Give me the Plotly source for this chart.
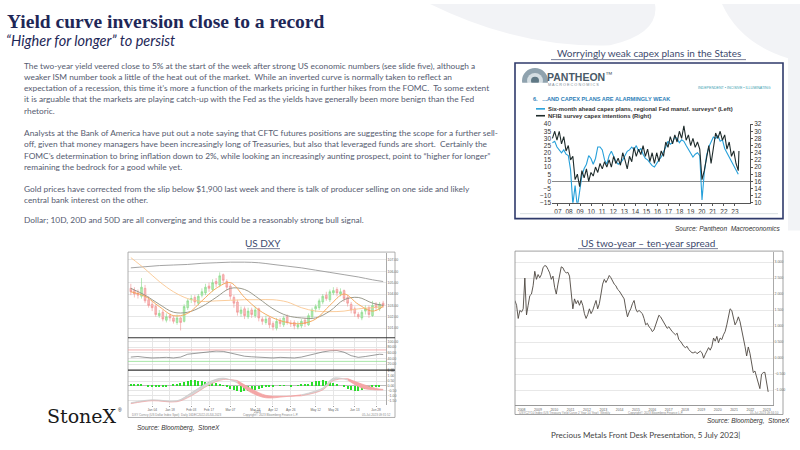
import numpy as np
import pandas as pd
import plotly.graph_objects as go

W, H = 800, 450
SANS = "Lato, Open Sans, sans-serif"
ARIAL = "Liberation Sans, Arial, sans-serif"
SERIF = "Liberation Serif, Times New Roman, serif"
NAVY = "#1e2757"

# ---------------- Pantheon: capex plans (left) vs NFIB capex intentions (right)
capex_years = np.linspace(2006.5, 2023.3, 83)
capex_plans = [27, 28, 24, 22, 20, 22, 19, 18, 8, -16,
               -3, -18, -5, 4, 9, 12, 18, 16, 12, 16,
               24, 24, 22, 15, 12, 18, 21, 17, 14, 12,
               13, 15, 18, 21, 22, 24, 22, 25, 21, 23,
               19, 16, 15, 13, 11, 10, 13, 15, 17, 20,
               24, 28, 26, 27, 31, 30, 27, 29, 28, 25,
               22, 20, 17, 19, 20, 18, -13, 6, 18, 24,
               27, 31, 30, 32, 28, 29, 23, 20, 17, 14,
               12, 9, 5]
nfib_years = list(capex_years) + [2023.36]
nfib_capex = [28, 30, 27.5, 30, 26.5, 28.5, 24.5, 26, 22, 23,
              16.5, 18, 14.5, 19, 17, 19.5, 16, 18.5, 17.5, 20,
              18.5, 21, 19.5, 21.5, 20, 22, 20, 23, 21, 22.5,
              20.5, 24, 22, 19.5, 23, 21.5, 25.5, 23, 25, 23.5,
              26, 23, 25, 21.5, 24, 21, 24, 21.5, 24.5, 23,
              27, 25.5, 28.5, 26.5, 29, 27, 30, 28, 31.5, 27.5,
              29, 26, 28, 25.5, 27, 25, 16.5, 19, 22.5, 26,
              21, 25, 29.5, 28, 30, 27.5, 29, 25, 27, 23,
              24.5, 21, 19, 24.5]
pantheon_years = list(range(2007, 2024))
pantheon_labels = [str(y)[2:] for y in pantheon_years]

# ---------------- US DXY daily candles, moving averages, RSI, MACD
dxy_open = [104.5, 104.3, 104.1, 103.8, 104.5, 103.5, 103.1, 102.9, 102.1, 102.4,
            101.7, 102.1, 101.9, 101.5, 101.9, 101.6, 102.8, 103.5, 103.7, 103.2,
            103.9, 104.1, 104.7, 104.4, 105.1, 104.8, 105.7, 105.1, 104.7, 103.7,
            103.3, 102.3, 102.7, 102.0, 102.6, 102.1, 102.7, 101.8, 101.5, 101.9,
            101.4, 101.0, 101.7, 101.3, 102.0, 101.4, 101.5, 101.1, 101.2, 101.7,
            101.3, 102.0, 102.7, 102.8, 103.3, 103.9, 103.5, 104.1, 104.4, 104.0,
            104.3, 103.7, 103.1, 102.7, 102.2, 101.9, 102.5, 102.8, 102.1, 103.1,
            102.7, 103.2]
dxy_high = [104.9, 104.6, 104.4, 105.4, 104.8, 103.8, 103.4, 103.1, 102.6, 102.6,
            102.3, 102.3, 102.1, 102.2, 102.0, 103.1, 103.6, 103.9, 103.9, 104.0,
            104.5, 104.9, 105.0, 105.3, 105.4, 105.9, 105.8, 105.3, 104.9, 103.9,
            103.5, 102.9, 102.9, 102.8, 102.8, 102.9, 102.8, 102.0, 102.1, 102.0,
            101.6, 101.9, 101.9, 102.1, 102.2, 101.7, 101.7, 101.6, 101.8, 101.9,
            102.3, 102.8, 103.1, 103.6, 104.0, 104.2, 104.4, 104.6, 104.6, 104.5,
            104.4, 103.9, 103.3, 102.9, 102.4, 102.6, 103.0, 103.0, 103.4, 103.3,
            103.3, 103.4]
dxy_low = [103.9, 103.7, 103.6, 103.6, 103.2, 102.8, 102.5, 102.0, 101.9, 101.6,
           101.5, 101.6, 101.4, 101.3, 100.8, 101.5, 102.6, 103.2, 103.0, 103.0,
           103.7, 103.9, 104.2, 104.2, 104.6, 104.6, 104.9, 104.3, 103.5, 102.8,
           102.1, 102.0, 101.8, 101.8, 101.9, 101.9, 101.6, 101.3, 101.3, 101.0,
           100.8, 100.8, 101.1, 101.1, 101.3, 101.1, 100.9, 100.9, 101.0, 101.1,
           101.2, 101.8, 102.4, 102.6, 103.1, 103.4, 103.3, 103.9, 103.8, 103.8,
           103.3, 102.9, 102.3, 102.0, 101.8, 101.7, 102.2, 101.9, 102.0, 102.5,
           102.5, 102.8]
dxy_close = [104.2, 104.0, 103.9, 104.6, 103.4, 103.0, 102.8, 102.2, 102.3, 101.8,
             102.0, 101.9, 101.6, 101.9, 101.5, 102.9, 103.4, 103.6, 103.3, 103.8,
             104.2, 104.6, 104.5, 105.0, 104.9, 105.6, 105.2, 104.6, 103.8, 103.2,
             102.4, 102.6, 102.1, 102.5, 102.2, 102.6, 101.9, 101.6, 101.8, 101.3,
             101.1, 101.6, 101.4, 101.9, 101.5, 101.4, 101.2, 101.3, 101.6, 101.4,
             102.1, 102.6, 102.9, 103.4, 103.8, 103.6, 104.2, 104.3, 104.1, 104.2,
             103.6, 103.2, 102.6, 102.3, 102.0, 102.4, 102.7, 102.2, 103.0, 102.8,
             103.1, 103.0]
dxy_idx = list(range(len(dxy_close)))

ma_idx = list(range(0, 72, 4)) + [71]
ma_fast = [104.2, 103.8, 102.9, 102.1, 102.3, 103.4, 104.5, 105.0, 103.7, 102.6,
           101.9, 101.5, 101.4, 101.8, 103.0, 104.0, 103.1, 102.5, 102.9]
ma_mid = [104.5, 103.9, 103.1, 102.4, 102.4, 102.9, 103.7, 104.5, 104.4, 103.6,
          102.7, 102.1, 101.9, 101.9, 102.5, 103.5, 103.7, 103.2, 103.0]
ma_slow = [107.2, 106.2, 105.1, 104.2, 103.6, 103.35, 103.4, 103.45, 103.5, 103.5,
           103.5, 103.3, 102.8, 102.5, 102.45, 102.5, 102.7, 102.8, 102.9]
ma_long = [106.3, 106.4, 106.5, 106.55, 106.6, 106.7, 106.75, 106.8, 106.8, 106.75,
           106.6, 106.45, 106.3, 106.1, 105.9, 105.7, 105.5, 105.25, 105.1]

rsi_idx = list(range(0, 72, 2)) + [71]
rsi = [45, 47, 44, 42, 43, 44, 42, 45, 55, 58, 62, 64, 66, 65, 60, 55, 48, 46, 44, 43,
       42, 44, 43, 42, 45, 50, 57, 63, 67, 68, 62, 50, 44, 47, 52, 55, 54]

macd_idx = [0, 6, 13, 17, 22, 26, 30, 34, 38, 43, 48, 54, 57, 61, 65, 69, 71]
macd_line = [-1.7, -1.4, -1.5, -0.7, 0.4, 0.8, 0.3, -0.7, -1.2, -1.1, -0.9, -0.2, 0.8, 0.6, -0.2, -0.4, -0.4]
macd_signal = [-1.8, -1.5, -1.6, -1.0, 0.1, 0.65, 0.55, -0.3, -0.95, -1.05, -1.0, -0.4, 0.55, 0.75, 0.2, -0.25, -0.35]
macd_hist = [0.1, 0.15, 0.12, 0.08,
             0.0, -0.05, -0.08, -0.1, -0.08, -0.05, -0.03, 0.0,
             0.1, 0.2, 0.3, 0.4, 0.5, 0.55, 0.55, 0.5, 0.45, 0.4, 0.35, 0.3, 0.25, 0.15, 0.05,
             -0.15, -0.3, -0.45, -0.55, -0.6, -0.55, -0.5, -0.45, -0.4, -0.3, -0.2, -0.15, -0.1,
             -0.05, 0.0, 0.05, 0.05, 0.0, -0.03, 0.0, 0.05, 0.08, 0.1,
             0.2, 0.35, 0.45, 0.5, 0.55, 0.5, 0.4, 0.3, 0.15,
             0.0, -0.15,
             -0.3, -0.45, -0.5, -0.5, -0.45, -0.35, -0.25, -0.15,
             -0.08, -0.03, 0.0]
dxy_tick_idx = [6, 11, 17, 22, 28, 35, 40, 45, 52, 57, 63, 69]
dxy_tick_text = ["Jan 04", "Jan 18", "Feb 03", "Feb 17", "Mar 07", "Mar 24",
                 "Apr 12", "Apr 26", "May 12", "May 26", "Jun 13", "Jun 28"]

# ---------------- US 2y-10y spread (%)
spread = [1.80, 1.65, 1.24, 1.49, 1.44, 1.54, 2.50, 1.35, 1.65, 1.95,
          2.00, 2.26, 2.71, 2.46, 2.61, 2.51, 2.61, 2.82, 2.89, 2.87,
          2.77, 2.66, 2.46, 2.56, 2.21, 2.00, 2.31, 2.56, 2.85, 2.82,
          2.71, 2.66, 2.68, 2.56, 2.05, 1.54, 1.85, 1.70, 1.80, 1.65,
          1.80, 1.65, 1.39, 1.24, 1.36, 1.54, 1.39, 1.49, 1.65, 1.80,
          1.54, 1.70, 2.00, 2.31, 2.46, 2.36, 2.46, 2.58, 2.51, 2.38,
          2.31, 2.26, 2.15, 2.10, 2.00, 1.95, 1.85, 1.54, 1.29, 1.44,
          1.54, 1.70, 1.80, 1.54, 1.44, 1.49, 1.44, 1.39, 1.24, 1.04,
          1.09, 0.98, 0.93, 0.83, 0.88, 1.04, 1.19, 1.34, 1.29, 1.19,
          1.09, 1.04, 0.93, 0.98, 0.88, 0.83, 0.78, 0.73, 0.78, 0.58,
          0.53, 0.43, 0.37, 0.33, 0.37, 0.27, 0.22, 0.17, 0.17, 0.20,
          0.14, 0.17, 0.22, 0.17, 0.00, 0.12, 0.22, 0.33, 0.25, 0.37,
          0.63, 0.53, 0.68, 0.48, 0.63, 0.58, 0.73, 0.83, 1.04, 1.34,
          1.54, 1.49, 1.29, 1.04, 1.14, 1.29, 1.14, 0.88, 0.73, 0.37,
          0.07, 0.35, 0.15, -0.10, -0.45, -0.40, -0.60, -0.75, -0.95, -0.50,
          -0.45, -0.44, -0.80, -1.05]
spread_dates = pd.date_range("2008-02-03", periods=len(spread), freq="37D")

# ---------------- slide text
body_lines = [
    (62.5, "The two-year yield veered close to 5% at the start of the week after strong US economic numbers (see slide five), although a"),
    (74, "weaker ISM number took a little of the heat out of the market.  While an inverted curve is normally taken to reflect an"),
    (85.5, "expectation of a recession, this time it\u2019s more a function of the markets pricing in further hikes from the FOMC.  To some extent"),
    (97, "it is arguable that the markets are playing catch-up with the Fed as the yields have generally been more benign than the Fed"),
    (108.5, "rhetoric."),
    (131, "Analysts at the Bank of America have put out a note saying that CFTC futures positions are suggesting the scope for a further sell-"),
    (142.5, "off, given that money managers have been increasingly long of Treasuries, but also that leveraged funds are short.  Certainly the"),
    (154, "FOMC\u2019s determination to bring inflation down to 2%, while looking an increasingly aunting prospect, point to \u201chigher for longer\u201d"),
    (165.5, "remaining the bedrock for a good while yet."),
    (187.5, "Gold prices have corrected from the slip below $1,900 last week and there is talk of producer selling on one side and likely"),
    (199, "central bank interest on the other."),
    (219, "Dollar; 10D, 20D and 50D are all converging and this could be a reasonably strong bull signal."),
]


def X(p):
    return p / W


def Y(p):
    return 1 - p / H


def ann(x, y, text, size, color="#333333", family=SANS, xa="left", ya="middle"):
    return dict(x=X(x), y=Y(y), xref="paper", yref="paper", text=text, showarrow=False,
                xanchor=xa, yanchor=ya, font=dict(size=size, color=color, family=family))


def rect(x0, y0, x1, y1, line="#999999", width=1, fill=None, layer="above"):
    return dict(type="rect", xref="paper", yref="paper", x0=X(x0), y0=Y(y1), x1=X(x1), y1=Y(y0),
                line=dict(color=line, width=width), fillcolor=fill, layer=layer)


def hline(x0, x1, y, color, width=1):
    return dict(type="line", xref="paper", yref="paper", x0=X(x0), x1=X(x1), y0=Y(y), y1=Y(y),
                line=dict(color=color, width=width))


fig = go.Figure()

# Pantheon chart
fig.add_trace(go.Scatter(x=capex_years, y=capex_plans, mode="lines", xaxis="x", yaxis="y",
                         line=dict(color="#26a0da", width=1.1)))
fig.add_trace(go.Scatter(x=nfib_years, y=nfib_capex, mode="lines", xaxis="x", yaxis="y2",
                         line=dict(color="#1f2c2c", width=1.1)))

# DXY main panel
fig.add_trace(go.Candlestick(x=dxy_idx, open=dxy_open, high=dxy_high, low=dxy_low, close=dxy_close,
                             xaxis="x2", yaxis="y3", whiskerwidth=0,
                             increasing=dict(line=dict(color="#86d986", width=0.6), fillcolor="#b2ecb2"),
                             decreasing=dict(line=dict(color="#f09090", width=0.6), fillcolor="#f8bcbc")))
for vals, col in [(ma_long, "#9a9a9a"), (ma_slow, "#f9c690"), (ma_mid, "#8f8f80"), (ma_fast, "#f4a150")]:
    fig.add_trace(go.Scatter(x=ma_idx, y=vals, mode="lines", xaxis="x2", yaxis="y3",
                             line=dict(color=col, width=0.9, shape="spline")))

# DXY RSI panel
fig.add_trace(go.Scatter(x=rsi_idx, y=rsi, mode="lines", xaxis="x3", yaxis="y4",
                         line=dict(color="#707070", width=0.7)))

# DXY MACD panel
fig.add_trace(go.Bar(x=dxy_idx, y=macd_hist, xaxis="x4", yaxis="y5", width=0.35,
                     marker=dict(color="#2add2a", line=dict(width=0))))
start = 0
for i in range(1, len(macd_idx) + 1):
    end = i == len(macd_idx)
    if end or (macd_line[i] >= macd_signal[i]) != (macd_line[start] >= macd_signal[start]):
        stop = min(i, len(macd_idx) - 1)
        seg = slice(start, stop + 1)
        up = macd_line[start] >= macd_signal[start]
        col = "#d6d6d6" if up else "#f4a6a6"
        fig.add_trace(go.Scatter(x=macd_idx[seg], y=macd_signal[seg], mode="lines", xaxis="x4", yaxis="y5",
                                 line=dict(color="#f2a0a0", width=0.7, shape="spline")))
        fig.add_trace(go.Scatter(x=macd_idx[seg], y=macd_line[seg], mode="lines", xaxis="x4", yaxis="y5",
                                 fill="tonexty", fillcolor=col,
                                 line=dict(color="#f2a0a0" if not up else "#c8c8c8", width=0.7, shape="spline")))
        start = stop

# spread chart
fig.add_trace(go.Scatter(x=spread_dates, y=spread, mode="lines", xaxis="x5", yaxis="y6",
                         line=dict(color="#4d4640", width=0.9)))

tiny = dict(size=3.5, color="#666666", family=ARIAL)
pfont = dict(size=6.5, color="#333333", family="Liberation Sans Narrow, " + ARIAL)

fig.update_layout(
    width=W, height=H, margin=dict(l=0, r=0, t=0, b=0),
    paper_bgcolor="white", plot_bgcolor="white", showlegend=False,
    bargap=0,
    # Pantheon
    xaxis=dict(domain=[X(552), X(750)], range=[2006.46, 2024.36], anchor="y",
               tickvals=pantheon_years, ticktext=pantheon_labels, tickfont=pfont,
               ticks="outside", ticklen=2, tickcolor="#555", showgrid=False,
               showline=True, linecolor="#555", linewidth=0.8, zeroline=False),
    yaxis=dict(domain=[Y(202), Y(122)], range=[-15, 40], dtick=5, anchor="x",
               tickfont=pfont, showgrid=False, zeroline=True, zerolinecolor="#8a8a8a",
               zerolinewidth=0.8, ticks=""),
    yaxis2=dict(overlaying="y", side="right", range=[10, 32], dtick=2, anchor="x",
                tickfont=pfont, showgrid=False, zeroline=False, showline=True,
                linecolor="#555", linewidth=0.8, ticks="outside", ticklen=2, tickcolor="#555"),
    # DXY main
    xaxis2=dict(domain=[X(128), X(386)], range=[-0.8, 71.8], anchor="y3", showticklabels=False,
                showgrid=False, zeroline=False, rangeslider=dict(visible=False)),
    yaxis3=dict(domain=[Y(339), Y(253)], range=[100.16, 107.6], anchor="x2", side="right",
                tickvals=[101, 102, 103, 104, 105, 106, 107], tickformat=".2f", tickfont=tiny,
                gridcolor="#e6e6e6", gridwidth=0.6, zeroline=False, showline=True,
                linecolor="#aaaaaa", linewidth=0.6),
    # DXY RSI
    xaxis3=dict(domain=[X(128), X(386)], range=[-0.8, 71.8], anchor="y4", matches="x2",
                showticklabels=False, tickvals=dxy_tick_idx, gridcolor="#e6e6e6",
                gridwidth=0.6, zeroline=False),
    yaxis4=dict(domain=[Y(372), Y(339)], range=[-1, 112.8], anchor="x3", side="right",
                tickvals=[0, 20, 40, 60, 80, 100], tickformat=".2f", tickfont=tiny,
                gridcolor="#e6e6e6", gridwidth=0.6, zeroline=False, showline=True,
                linecolor="#aaaaaa", linewidth=0.6),
    # DXY MACD
    xaxis4=dict(domain=[X(128), X(386)], range=[-0.8, 71.8], anchor="y5", matches="x2",
                tickvals=dxy_tick_idx, ticktext=dxy_tick_text,
                tickfont=dict(size=3.2, color="#666666", family=ARIAL),
                gridcolor="#e6e6e6", gridwidth=0.6, zeroline=False, ticks="outside",
                ticklen=1, tickcolor="#999"),
    yaxis5=dict(domain=[Y(407), Y(372)], range=[-1.9, 1.6], anchor="x4", side="right",
                tickvals=[-1.5, -1, -0.5, 0, 0.5, 1, 1.5], tickformat=".2f", tickfont=tiny,
                gridcolor="#e6e6e6", gridwidth=0.6, zeroline=True, zerolinecolor="#bbbbbb",
                zerolinewidth=0.6, showline=True, linecolor="#aaaaaa", linewidth=0.6),
    # spread
    xaxis5=dict(domain=[X(515), X(773)], type="date", range=["2008-02-05", "2023-11-20"],
                anchor="y6", dtick="M12", tick0="2008-01-01", ticklabelmode="period",
                tickformat="%Y", tickfont=tiny, ticks="outside", ticklen=1, tickcolor="#999",
                showgrid=False, showline=True, linecolor="#999", linewidth=0.6),
    yaxis6=dict(domain=[Y(407), Y(252)], range=[-1.45, 3.31], anchor="x5", side="right",
                dtick=0.5, tickformat=".3f", tickfont=tiny, gridcolor="#e8e8e8",
                gridwidth=0.7, zeroline=False, showline=True, linecolor="#aaaaaa", linewidth=0.6),
)

shapes = [
    # faint watermark
    dict(type="path", xref="paper", yref="paper", layer="below", line=dict(width=0),
         fillcolor="#f2f3f6",
         path=f"M {X(430)},{Y(0)} L {X(655)},{Y(0)} Q {X(660)},{Y(30)} {X(610)},{Y(42)} "
              f"Q {X(520)},{Y(45)} {X(430)},{Y(0)} Z"),
    dict(type="path", xref="paper", yref="paper", layer="below", line=dict(width=0),
         fillcolor="#f2f3f6",
         path=f"M {X(722)},{Y(0)} L {X(800)},{Y(0)} L {X(800)},{Y(230)} L {X(788)},{Y(230)} "
              f"L {X(788)},{Y(55)} Q {X(740)},{Y(40)} {X(722)},{Y(0)} Z"),
    # chart frames
    rect(515, 60, 783, 218, line="#2f3a6b", width=1.6),
    rect(128, 252, 395, 420, line="#9a9a9a", width=0.8),
    rect(515, 251, 783, 417, line="#8a8a8a", width=0.8),
    hline(128, 395, 339, "#333333", 1.2),
    hline(128, 395, 372, "#333333", 1.2),
    hline(520, 778, 213, "#cfd8dc", 0.8),
    # Pantheon logo and legend keys
    dict(type="circle", xref="paper", yref="paper", x0=X(522), x1=X(548), y0=Y(91), y1=Y(65),
         fillcolor="#8fa2ae", line=dict(width=0)),
    dict(type="circle", xref="paper", yref="paper", x0=X(527), x1=X(543), y0=Y(86), y1=Y(70),
         fillcolor="#d5dee3", line=dict(width=0)),
    dict(type="circle", xref="paper", yref="paper", x0=X(531), x1=X(539), y0=Y(82), y1=Y(74),
         fillcolor="#5f7885", line=dict(width=0)),
    rect(520, 80, 549, 92, line="white", width=0, fill="white"),
    hline(536, 545, 106.5, "#26a0da", 1.6),
    hline(536, 545, 113.5, "#1f2c2c", 1.6),
    # RSI bands
    dict(type="line", xref="x3 domain", yref="y4", x0=0, x1=1, y0=70, y1=70,
         line=dict(color="#f29a9a", width=0.8)),
    dict(type="line", xref="x3 domain", yref="y4", x0=0, x1=1, y0=30, y1=30,
         line=dict(color="#8fe08f", width=0.8)),
    # chart title underlines
    hline(551, 746, 56.5, "#404a6e", 0.7),
    hline(247, 280, 248.5, "#404a6e", 0.7),
    hline(578, 718, 248.5, "#404a6e", 0.7),
]

annotations = [
    ann(5, 18, "<b>Yield curve inversion close to a record</b>", 19.5, NAVY, SERIF),
    ann(4, 37, "<i>\u201cHigher for longer\u201d to persist</i>", 14.5, NAVY, SANS),
    ann(648.5, 50, "Worryingly weak capex plans in the States", 10, "#404a6e", SANS, xa="center"),
    ann(263, 242.5, "US DXY", 10, "#404a6e", SANS, xa="center"),
    ann(648, 242.5, "US two-year \u2013 ten-year spread", 10, "#404a6e", SANS, xa="center"),
    ann(783, 228.5, "<i>Source: Pantheon  Macroeconomics</i>", 6.5, "#333333", ARIAL, xa="right"),
    ann(135, 431, "<i>Source: Bloomberg,  StoneX</i>", 6.5, "#333333", ARIAL),
    ann(792, 423.5, "<i>Source: Bloomberg,  StoneX</i>", 6.5, "#333333", ARIAL, xa="right"),
    ann(549, 438, "Precious Metals Front Desk Presentation, 5 July 2023|", 8, "#444444", SANS),
    ann(45, 419, "StoneX", 19, "#1a1a1a", "DejaVu Serif, serif"),
    ann(116, 412, "\u00ae", 5, "#1a1a1a", ARIAL),
    # Pantheon header
    ann(545, 73.5, "<b>PANTHEON</b><sup>\u2122</sup>", 10.5, "#4a5a68", ARIAL),
    ann(546, 82, "M A C R O E C O N O M I C S", 3.8, "#7a8a95", ARIAL),
    ann(773, 85, "INDEPENDENT \u2022 INCISIVE \u2022 ILLUMINATING", 3.6, "#3aa0b0", ARIAL, xa="right"),
    ann(531, 96.5, "<b>6.   ...AND CAPEX PLANS ARE ALARMINGLY WEAK</b>", 5.6, "#2e80b8", ARIAL),
    ann(546, 106.5, "<b>Six-month ahead capex plans, regional Fed manuf. surveys* (Left)</b>", 5.9, "#333333", ARIAL),
    ann(546, 113.5, "<b>NFIB survey capex intentions (Right)</b>", 5.9, "#333333", ARIAL),
    # Bloomberg chart footers
    ann(257, 414.6, "2023", 3, "#666666", ARIAL, xa="center"),
    ann(130, 417.8, "DXY Curncy (US Dollar Index Spot)  Daily 16DEC2022-05JUL2023", 3, "#888888", ARIAL),
    ann(270, 417.8, "Copyright\u00a9 2023 Bloomberg Finance L.P.", 3, "#888888", ARIAL, xa="center"),
    ann(393, 417.8, "05-Jul-2023 09:31:52", 3, "#888888", ARIAL, xa="right"),
    ann(517, 415, "USYC2Y10 Index (US Treasury Yield Curve 2 Year 10 Year)  Weekly", 3, "#888888", ARIAL),
    ann(655, 415, "Copyright\u00a9 2023 Bloomberg Finance L.P.", 3, "#888888", ARIAL, xa="center"),
    ann(781, 415, "05-Jul-2023 09:34:10", 3, "#888888", ARIAL, xa="right"),
]
for yy, line in body_lines:
    annotations.append(ann(22, yy, line, 8.35, "#555b70", SANS))

fig.update_layout(shapes=shapes, annotations=annotations)

# page body has a default margin; remove it so the 800x450 figure fills the window
fig.write_html("out.html", config={"displayModeBar": False},
               post_script="document.body.style.margin='0px';")
